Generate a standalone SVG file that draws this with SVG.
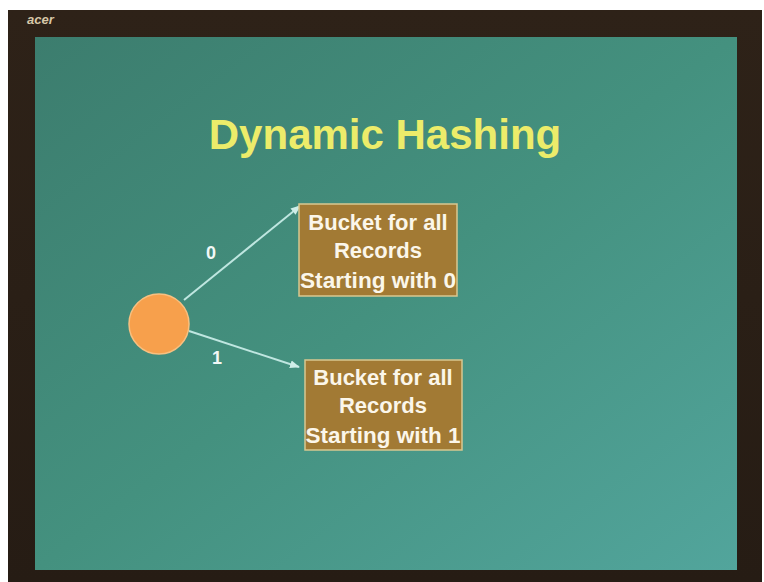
<svg xmlns="http://www.w3.org/2000/svg" width="764" height="582" viewBox="0 0 764 582">
<defs>
<linearGradient id="scr" x1="0" y1="0" x2="1" y2="1">
<stop offset="0" stop-color="#3c7d6e"/>
<stop offset="0.5" stop-color="#44917f"/>
<stop offset="1" stop-color="#52a59c"/>
</linearGradient>
<linearGradient id="frm" x1="0" y1="0" x2="0" y2="1">
<stop offset="0" stop-color="#2e2218"/>
<stop offset="1" stop-color="#261c14"/>
</linearGradient>
<marker id="ah" viewBox="0 0 10 10" refX="9" refY="5" markerWidth="5" markerHeight="5" orient="auto">
<path d="M0,1 L10,5 L0,9 z" fill="#cfeee8"/>
</marker>
<style>
.box{fill:#a27a34;stroke:#d8c890;stroke-width:1.5}
.bt{font-family:"Liberation Sans",Arial,sans-serif;font-weight:bold;font-size:22px;fill:#fbf6ea;text-anchor:middle}
.lbl{font-family:"Liberation Sans",Arial,sans-serif;font-weight:bold;font-size:18px;fill:#f2f8f6;text-anchor:middle}
.edge{stroke:#bfe6e0;stroke-width:2;fill:none}
</style>
</defs>
<rect x="0" y="0" width="764" height="582" fill="#ffffff"/>
<rect x="8" y="10" width="754" height="572" fill="url(#frm)"/>
<rect x="35" y="37" width="702" height="533" fill="url(#scr)"/>
<text x="27" y="24" font-family="Liberation Sans,Arial,sans-serif" font-weight="bold" font-style="italic" font-size="13" fill="#d8c8a8">acer</text>
<text x="385" y="149" font-family="Liberation Sans,Arial,sans-serif" font-weight="bold" font-size="42" fill="#ecec6a" text-anchor="middle">Dynamic Hashing</text>
<g id="connectors">
<line class="edge" x1="184" y1="300" x2="300" y2="206" marker-end="url(#ah)"/>
<line class="edge" x1="189" y1="331" x2="299" y2="367" marker-end="url(#ah)"/>
<text class="lbl" x="211" y="259">0</text>
<text class="lbl" x="217" y="364">1</text>
</g>
<g id="root">
<circle cx="159" cy="324" r="30" fill="#f7a04c" stroke="#f8c080" stroke-width="1.5"/>
</g>
<g id="bucket0">
<rect class="box" x="299" y="204" width="158" height="92"/>
<text class="bt" x="378" y="230">Bucket for all</text>
<text class="bt" x="378" y="258">Records</text>
<text class="bt" x="378" y="288" textLength="156" lengthAdjust="spacingAndGlyphs">Starting with 0</text>
</g>
<g id="bucket1">
<rect class="box" x="305" y="360" width="157" height="90"/>
<text class="bt" x="383" y="385">Bucket for all</text>
<text class="bt" x="383" y="413">Records</text>
<text class="bt" x="383" y="443" textLength="155" lengthAdjust="spacingAndGlyphs">Starting with 1</text>
</g>
</svg>
